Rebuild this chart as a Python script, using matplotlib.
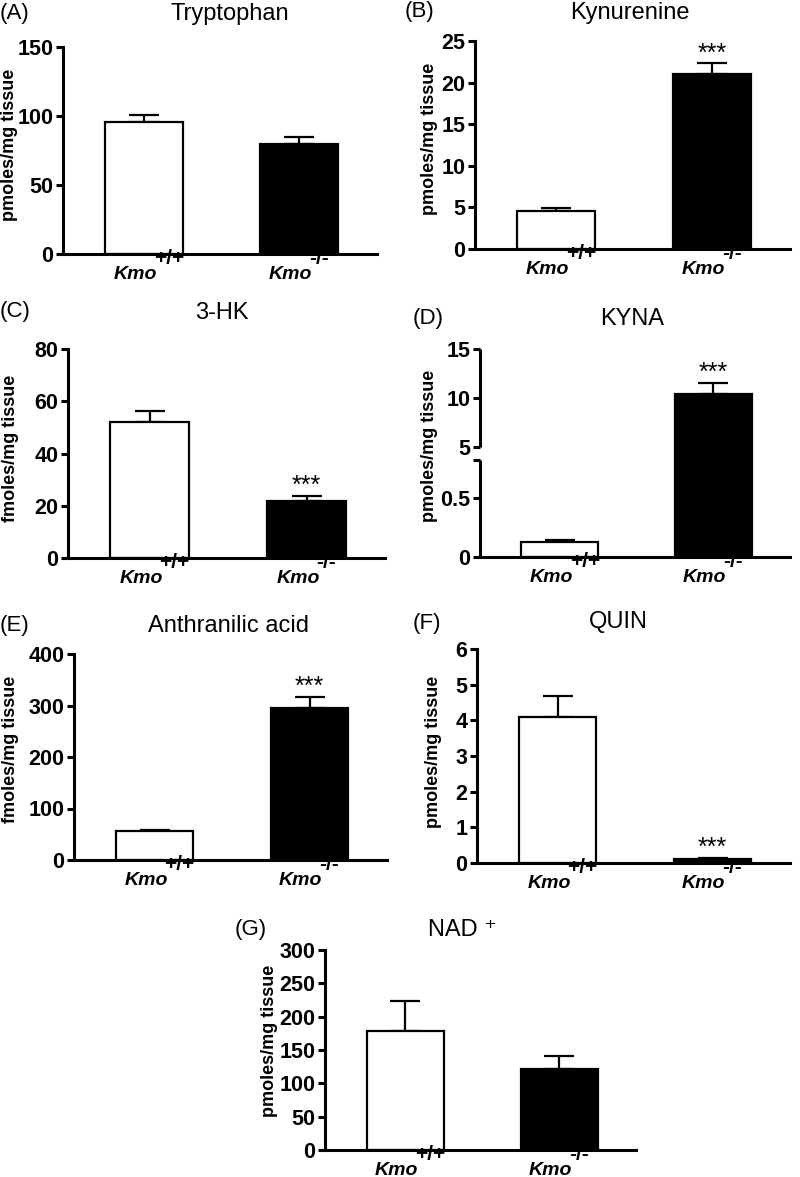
"""
Kynurenine pathway metabolites in Kmo+/+ vs Kmo-/- tissue.
Seven small bar panels (A-G), mean + upward SEM bars.
"""

import matplotlib
matplotlib.use("Agg")
import matplotlib.pyplot as plt
import matplotlib.transforms as mtransforms
import numpy as np


# ---- data ----
GENE = "Kmo"
GENOTYPES = ["+/+", "-/-"]

TRP_MEAN = [95.5, 79.5]
TRP_ERR = [5.2, 5.3]

KYN_MEAN = [4.6, 21.0]
KYN_ERR = [0.3, 1.3]

HK_MEAN = [52.0, 22.0]
HK_ERR = [4.4, 1.6]

KYNA_MEAN = [0.13, 10.4]
KYNA_ERR = [0.012, 1.1]

AA_MEAN = [56.0, 295.0]
AA_ERR = [3.0, 22.0]

QUIN_MEAN = [4.1, 0.1]
QUIN_ERR = [0.58, 0.05]

NAD_MEAN = [179.0, 121.0]
NAD_ERR = [44.0, 20.0]

FILL = ["white", "black"]

plt.rcParams["font.family"] = ["Liberation Sans", "DejaVu Sans"]

W, H = 800, 1177
fig = plt.figure(figsize=(W / 100, H / 100), dpi=100)

TICK_FS = 15.5
TITLE_FS = 17
LETTER_FS = 16
YLAB_FS = 13


def px_axes(x0, x1, ytop, yzero):
    """Axes box given in pixels of the reference picture."""
    return fig.add_axes([x0 / W, 1 - yzero / H, (x1 - x0) / W, (yzero - ytop) / H])


def px_text(x, y, s, **kw):
    fig.text(x / W, 1 - y / H, s, **kw)


def bar_panel(ax, means, errs, ymax, yticks, stars=False, ticklabels=None):
    xs = np.arange(len(means))
    ax.bar(xs, means, width=0.5, color=FILL, edgecolor="black", linewidth=1.6, zorder=2)
    ax.errorbar(xs, means, yerr=[[0] * len(errs), errs], fmt="none",
                ecolor="black", elinewidth=1.6, capsize=11, capthick=1.6, zorder=1)
    ax.set_xlim(-0.52, 1.5)
    ax.set_ylim(0, ymax)
    ax.set_yticks(yticks)
    if ticklabels is not None:
        ax.set_yticklabels(ticklabels)
    ax.set_xticks([])
    for side in ("top", "right"):
        ax.spines[side].set_visible(False)
    for side in ("left", "bottom"):
        ax.spines[side].set_linewidth(2.2)
    ax.tick_params(axis="y", length=5, width=2.2, labelsize=TICK_FS, pad=2)
    for lab in ax.get_yticklabels():
        lab.set_fontweight("bold")

    # genotype labels: italic gene name with a large raised superscript
    trans = mtransforms.blended_transform_factory(ax.transData, ax.transAxes)
    for x, g in zip(xs, GENOTYPES):
        ax.annotate(GENE, xy=(x, 0), xycoords=trans, xytext=(13, -25),
                    textcoords="offset pixels", ha="right", va="baseline",
                    fontsize=14, fontweight="bold", style="italic",
                    annotation_clip=False)
        ax.annotate(g, xy=(x, 0), xycoords=trans, xytext=(10, -10),
                    textcoords="offset pixels", ha="left", va="baseline",
                    fontsize=15, fontweight="bold", annotation_clip=False)

    if stars:
        ax.annotate("***", xy=(1, means[1] + errs[1]), xytext=(0, 3),
                    textcoords="offset pixels", ha="center", va="baseline",
                    fontsize=18, annotation_clip=False)


def decorate(letter_xy, letter, title_xy, title, ylab_xy, ylab):
    px_text(*letter_xy, letter, fontsize=LETTER_FS, va="center")
    px_text(*title_xy, title, fontsize=TITLE_FS, ha="center", va="center")
    px_text(*ylab_xy, ylab, fontsize=YLAB_FS, fontweight="bold",
            rotation=90, ha="center", va="center")


# (A) Tryptophan
ax = px_axes(63, 377, 47, 254)
bar_panel(ax, TRP_MEAN, TRP_ERR, 150, [0, 50, 100, 150])
decorate((0, 13), "(A)", (230, 14), "Tryptophan", (10, 145), "pmoles/mg tissue")

# (B) Kynurenine
ax = px_axes(475, 790, 41, 249)
bar_panel(ax, KYN_MEAN, KYN_ERR, 25, [0, 5, 10, 15, 20, 25], stars=True)
decorate((405, 12), "(B)", (630, 13), "Kynurenine", (429, 139), "pmoles/mg tissue")

# (C) 3-HK
ax = px_axes(68, 385, 349, 558)
bar_panel(ax, HK_MEAN, HK_ERR, 80, [0, 20, 40, 60, 80], stars=True)
decorate((0, 312), "(C)", (222, 313), "3-HK", (11, 448), "fmoles/mg tissue")

# (D) KYNA - broken y axis (0-0.82 below, 5-15 above)
BRK_LO, BRK_HI = 0.82, 5.0
SEG_Y = [0.0, BRK_LO, BRK_HI, 15.0]
SEG_U = [0.0, BRK_LO * 118, BRK_LO * 118 + 13.6, BRK_LO * 118 + 13.6 + 98.0]


def _pw(v, xp, fp):
    v = np.asarray(v, dtype=float)
    out = np.interp(v, xp, fp)
    lo_slope = (fp[1] - fp[0]) / (xp[1] - xp[0])
    hi_slope = (fp[-1] - fp[-2]) / (xp[-1] - xp[-2])
    out = np.where(v < xp[0], fp[0] + (v - xp[0]) * lo_slope, out)
    out = np.where(v > xp[-1], fp[-1] + (v - xp[-1]) * hi_slope, out)
    return out


def brk_fwd(y):
    return _pw(y, SEG_Y, SEG_U)


def brk_inv(u):
    return _pw(u, SEG_U, SEG_Y)


ax = px_axes(480, 790, 349, 557)
ax.set_yscale("function", functions=(brk_fwd, brk_inv))
bar_panel(ax, KYNA_MEAN, KYNA_ERR, 15, [0, 0.5, BRK_LO, 5, 10, 15], stars=True,
          ticklabels=["0", "0.5", "", "5", "10", "15"])
ax.spines["left"].set_visible(False)
trans = mtransforms.blended_transform_factory(ax.transAxes, ax.transData)
ax.plot([0, 0], [0, BRK_LO], color="black", lw=2.2, transform=trans,
        clip_on=False, solid_capstyle="butt")
ax.plot([0, 0], [BRK_HI, 15], color="black", lw=2.2, transform=trans,
        clip_on=False, solid_capstyle="butt")
decorate((413, 319), "(D)", (632, 319), "KYNA", (429, 446), "pmoles/mg tissue")

# (E) Anthranilic acid
ax = px_axes(74, 387, 654, 860)
bar_panel(ax, AA_MEAN, AA_ERR, 400, [0, 100, 200, 300, 400], stars=True)
decorate((0, 625), "(E)", (229, 626), "Anthranilic acid", (11, 749), "fmoles/mg tissue")

# (F) QUIN
ax = px_axes(477, 790, 649, 863)
bar_panel(ax, QUIN_MEAN, QUIN_ERR, 6, [0, 1, 2, 3, 4, 5, 6], stars=True)
decorate((413, 623), "(F)", (618, 622), "QUIN", (434, 752), "pmoles/mg tissue")

# (G) NAD+
ax = px_axes(325, 636, 950, 1150)
bar_panel(ax, NAD_MEAN, NAD_ERR, 300, [0, 50, 100, 150, 200, 250, 300])
decorate((235, 929), "(G)", (462, 930), "NAD \u207a", (269, 1041), "pmoles/mg tissue")

fig.savefig("out.png", dpi=100)
